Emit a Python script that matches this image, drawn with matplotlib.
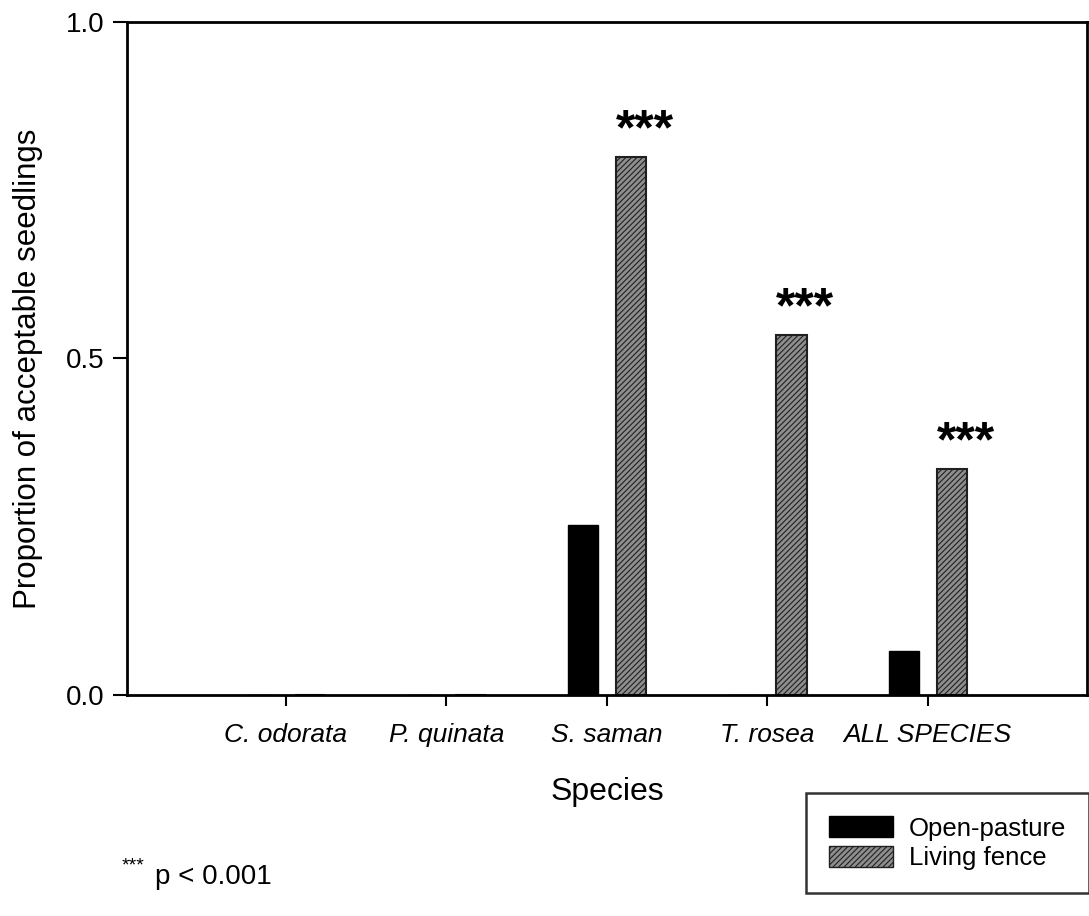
import numpy as np
import matplotlib.pyplot as plt
from matplotlib.patches import Patch

plt.rcParams['font.family'] = ['Liberation Sans', 'DejaVu Sans']
plt.rcParams['hatch.linewidth'] = 0.8

# datos
species = ['C. odorata', 'P. quinata', 'S. saman', 'T. rosea', 'ALL SPECIES']
open_pasture = [0.0, 0.0, 0.253, 0.0, 0.065]
living_fence = [0.0, 0.0, 0.80, 0.535, 0.336]
signif = ['', '', '***', '***', '***']

x = np.arange(len(species))
w = 0.19

fig = plt.figure(figsize=(10.89, 9.16), dpi=100)
ax = fig.add_axes([0.1166, 0.2413, 0.8814, 0.7347])

ax.bar(x - 0.15, open_pasture, w, color='black', edgecolor='black', linewidth=1)
ax.bar(x + 0.15, living_fence, w, color='#8e8e8e', edgecolor='#202020',
       hatch='//////', linewidth=1.5)

# asteriscos alineados con el borde izquierdo de la barra
for xi, h, s in zip(x, living_fence, signif):
    if s:
        ax.text(xi + 0.15 - w / 2, h + 0.018, s, ha='left', va='baseline',
                fontsize=36, fontweight='bold')

ax.set_xlim(-0.99, 4.99)
ax.set_ylim(0, 1.0)
ax.set_yticks([0.0, 0.5, 1.0])
ax.set_yticklabels(['0.0', '0.5', '1.0'], fontsize=20)
ax.set_xticks(x)
ax.set_xticklabels(species, fontsize=19, style='italic')
ax.tick_params(axis='y', direction='out', length=10, width=1.5, pad=6)
ax.tick_params(axis='x', direction='out', length=8, width=1.5, pad=12)
for sp in ax.spines.values():
    sp.set_linewidth(2)

ax.set_ylabel('Proportion of acceptable seedlings', fontsize=22.5)
ax.yaxis.set_label_coords(-0.087, 0.484)
ax.set_xlabel('Species', fontsize=23, labelpad=22)

handles = [Patch(facecolor='black', edgecolor='black', label='Open-pasture'),
           Patch(facecolor='#8e8e8e', edgecolor='#202020', hatch='//////',
                 label='Living fence')]
leg = fig.legend(handles=handles, loc='upper left',
                 bbox_to_anchor=(806 / 1089, 1 - 793 / 916),
                 fontsize=18.5, frameon=True, fancybox=False, edgecolor='black',
                 handlelength=2.5, handleheight=0.9, handletextpad=0.6,
                 borderpad=0.9, labelspacing=0.2, borderaxespad=0)
leg.get_frame().set_linewidth(1.8)

fig.text(122 / 1089, 1 - 866 / 916, '***', fontsize=14, va='center')
fig.text(155 / 1089, 1 - 877 / 916, 'p < 0.001', fontsize=20, va='center')

fig.savefig('out.png', dpi=100)
